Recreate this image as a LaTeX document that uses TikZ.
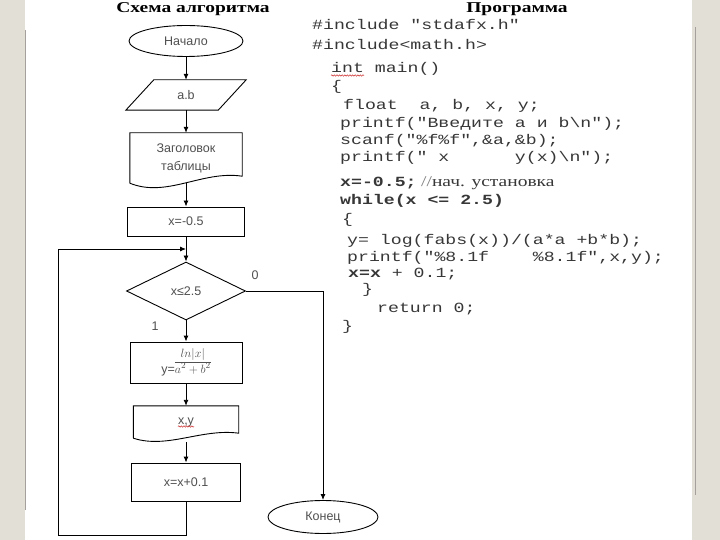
\documentclass[tikz,border=0pt]{standalone}
\usepackage{fontspec}
\setmainfont{Liberation Sans}
\newfontfamily\flowfont{Liberation Sans}
\newfontfamily\codefont[FakeStretch=1.3]{Liberation Mono}
\newfontfamily\titlefont[FakeStretch=1.3]{Liberation Serif}
\usetikzlibrary{shapes.geometric, arrows.meta, positioning, calc, decorations.pathmorphing}
\definecolor{pageedge}{RGB}{226,223,214}
\definecolor{edgeline}{RGB}{165,160,155}
\definecolor{flowtext}{RGB}{80,80,80}
\definecolor{codetext}{RGB}{55,55,55}
\definecolor{spellred}{RGB}{205,45,45}
\tikzset{
  term/.style={ellipse, draw, line width=0.9pt, inner sep=0pt,
    font=\flowfont\fontsize{12.5}{15}\selectfont, text=flowtext},
  procbox/.style={rectangle, draw, line width=0.9pt, inner sep=0pt,
    font=\flowfont\fontsize{12.5}{15}\selectfont, text=flowtext},
  ghost/.style={rectangle, inner sep=0pt, align=center,
    font=\flowfont\fontsize{12.5}{18}\selectfont, text=flowtext},
  decide/.style={diamond, draw, aspect=2, inner sep=0pt, line width=0.9pt,
    minimum width=119pt, minimum height=58pt,
    font=\flowfont\fontsize{12.5}{15}\selectfont, text=flowtext},
  flowlabel/.style={inner sep=0pt, font=\flowfont\fontsize{12.5}{15}\selectfont, text=flowtext},
  arrow/.style={-{Latex[length=6pt,width=5pt]}, line width=0.9pt},
  line/.style={line width=0.9pt},
  squiggle/.style={spellred, line width=0.5pt, decorate,
    decoration={snake, amplitude=0.7pt, segment length=2.6pt}},
  codeline/.style={anchor=base west, inner sep=0pt,
    font=\codefont\fontsize{14}{16}\selectfont, text=codetext},
  heading/.style={anchor=base, inner sep=0pt,
    font=\titlefont\bfseries\fontsize{15}{18}\selectfont}
}

\begin{document}
\begin{tikzpicture}[x=1pt, y=-1pt]
  \useasboundingbox (0,0) rectangle (720,540);
  % Page and its edges
  \fill[white] (25,0) rectangle (692,540);
  \fill[pageedge] (0,0) rectangle (25,540);
  \fill[pageedge] (692,0) rectangle (720,540);
  \draw[edgeline, line width=0.8pt] (25.5,30) -- (25.5,510);
  \draw[edgeline, line width=0.8pt] (695,27) -- (695,495);

  % Headings
  \node[heading] (ttlflow) at (193,13) {Схема алгоритма};
  \node[heading] (ttlcode) at (517,13) {Программа};

  % Flowchart
  \node[term, minimum width=114pt, minimum height=31pt] (start) at (186,41) {Начало};
  \node[ghost, minimum width=92pt, minimum height=30pt] (input) at (186,95) {a.b};
  \draw[line] ([xshift=14pt]input.north west) -- ([xshift=14pt]input.north east)
    -- ([xshift=-14pt]input.south east) -- ([xshift=-14pt]input.south west) -- cycle;

  \node[ghost, minimum width=112pt, minimum height=50pt] (header) at (186,158)
    {Заголовок\\таблицы};
  \draw[line] (header.south west) -- (header.north west) -- (header.north east)
    -- ($(header.south east)+(0,-7)$)
    .. controls ($(header.south east)+(-40,-13)$) and ($(header.south west)+(37,15)$)
    .. (header.south west);

  \node[procbox, minimum width=117pt, minimum height=29pt] (init) at (186,221.5) {x=-0.5};
  \node[decide] (cond) at (186,291) {x≤2.5};
  \node[flowlabel] (lblno) at (255,275) {0};
  \node[flowlabel] (lblyes) at (155,326) {1};

  \node[procbox, minimum width=112pt, minimum height=41pt] (formula) at (186,362.5)
    {y=$\begin{array}[b]{@{}c@{}}ln|x|\\\hline a^2+b^2\end{array}$};

  \node[ghost, minimum width=105pt, minimum height=32pt] (output) at (186,422) {x,y};
  \draw[line] (output.south west) -- (output.north west) -- (output.north east)
    -- ($(output.south east)+(0,-5)$)
    .. controls ($(output.south east)+(-37,-10)$) and ($(output.south west)+(34,11)$)
    .. (output.south west);
  \draw[squiggle] ([xshift=-8pt,yshift=-2.5pt]output.base) -- ++(16,0);

  \node[procbox, minimum width=109pt, minimum height=38pt] (step) at (186,482) {x=x+0.1};
  \node[term, minimum width=110pt, minimum height=33pt] (finish) at (323,517) {Конец};

  % Connectors
  \coordinate (loopjoin) at (186,249);
  \coordinate (loopturn) at (58,535);
  \draw[arrow] (start) -- (input);
  \draw[arrow] (input) -- (header);
  \draw[arrow] (header.south) -- (init);
  \draw[arrow] (init) -- (cond);
  \draw[arrow] (cond.south) -- (formula);
  \draw[arrow] (formula) -- (output);
  \draw[arrow] ($(output.south)+(0,4)$) -- (step);
  \draw[arrow] (cond.east) -| (finish.north);
  \draw[arrow] (step.south) |- (loopturn) |- (loopjoin);

  % Program text
  \node[codeline] (c1) at (312,29.5) {\#include "stdafx.h"};
  \node[codeline] (c2) at (312,49.5) {\#include<math.h>};
  \node[codeline] (c3) at (331,72.5) {int main()};
  \draw[squiggle] ([yshift=-3pt]c3.base west) -- ++(33,0);
  \node[codeline] (c4) at (331,91) {\{};
  \node[codeline] (c5) at (343,109.5) {float~~a, b, x, y;};
  \node[codeline] (c6) at (340,127.5) {printf("Введите a и b\textbackslash n");};
  \node[codeline] (c7) at (340,144.5) {scanf("\%f\%f",\&a,\&b);};
  \node[codeline] (c8) at (340,161.5) {printf("~x~~~~~~y(x)\textbackslash n");};
  \node[codeline] (c9) at (340,186.5) {\bfseries x=-0.5;};
  \node[anchor=base west, inner sep=0pt, font=\titlefont\fontsize{15}{18}\selectfont,
    text=codetext] (c9note) at (421,186.5) {{\color{gray}//}нач. установка};
  \node[codeline] (c10) at (340,204.5) {\bfseries while(x <= 2.5)};
  \node[codeline] (c11) at (342,223) {\{};
  \node[codeline] (c12) at (347,244.5) {y= log(fabs(x))/(a*a +b*b);};
  \node[codeline] (c13) at (347,261.5) {printf("\%8.1f~~~~\%8.1f",x,y);};
  \node[codeline] (c14) at (348,277.5) {{\bfseries x=x} + 0.1;};
  \node[codeline] (c15) at (362,293) {\}};
  \node[codeline] (c16) at (377,312.5) {return 0;};
  \node[codeline] (c17) at (342,330) {\}};
\end{tikzpicture}
\end{document}
